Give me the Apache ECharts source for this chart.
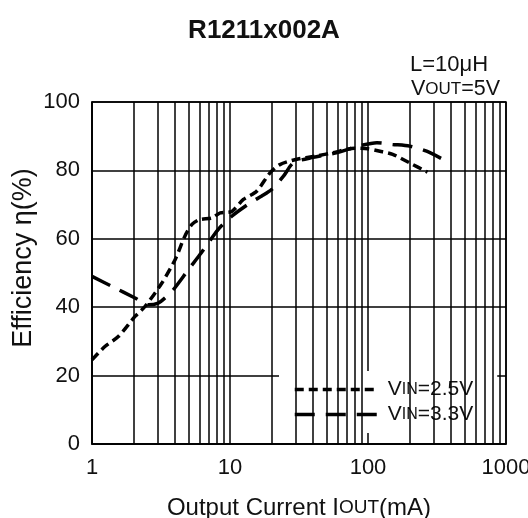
<!DOCTYPE html>
<html><head><meta charset="utf-8">
<script src="https://cdn.jsdelivr.net/npm/echarts@6/dist/echarts.min.js"></script>
<style>html,body{margin:0;padding:0;background:#fff}#c{width:528px;height:518px}</style>
</head><body><div id="c"></div>
<script>
// Data
var vin25_x = [1, 1.24, 1.55, 2.05, 2.42, 3.2, 4.0, 4.7, 5.3, 6.0, 7.4, 8.5, 10.3, 12.5, 15.6, 19.5, 23, 30, 42, 56, 80, 100, 122, 151, 200, 270];
var vin25_y = [24.6, 28.5, 31.4, 37.3, 40.2, 47, 53.9, 60.7, 64.2, 65.6, 66.1, 67.6, 68, 71.5, 73.9, 79.3, 81.7, 83.2, 84.2, 85.2, 86.5, 86.3, 85.6, 84.7, 82.2, 79.5];
var vin33_x = [1, 1.39, 2.05, 2.56, 3.02, 3.38, 3.88, 5.0, 6.2, 8.2, 10.3, 14, 17, 20, 24.4, 28.8, 40, 60, 87, 116, 151, 200, 266, 350];
var vin33_y = [49, 46.1, 42.7, 40.7, 41.2, 42.7, 45.1, 51, 55.9, 62.7, 66.6, 70.5, 72.5, 74.4, 78.3, 82.2, 83.8, 85.2, 87.2, 88.1, 87.6, 87.1, 85.6, 83.2];
var minorGrid_x = [2,3,4,5,6,7,8,9,20,30,40,50,60,70,80,90,200,300,400,500,600,700,800,900];
var seriesNames = ['{a|V}{b|IN}{a|=2.5V}', '{a|V}{b|IN}{a|=3.3V}'];

function pairs(xs, ys){ return xs.map(function(x,i){ return [x, ys[i]]; }); }
var FONT = 'Liberation Sans, Arial, sans-serif';
var chart = echarts.init(document.getElementById('c'));
chart.setOption({
  animation: false,
  backgroundColor: '#fff',
  textStyle: {fontFamily: FONT, color: '#111'},
  title: [
    {text: 'R1211x002A', left: 'center', top: 13, textStyle: {fontSize: 26, fontWeight: 'bold', color: '#111', fontFamily: FONT}},
    {text: 'L=10μH', left: 405, top: 49, textStyle: {fontSize: 22, fontWeight: 'normal', color: '#111', fontFamily: FONT}},
    {text: '{a|V}{b|OUT}{a|=5V}', left: 406, top: 73, textStyle: {fontSize: 21, fontWeight: 'normal', color: '#111', fontFamily: FONT,
      rich: {a: {fontSize: 21.5, fontFamily: FONT, color: '#111'}, b: {fontSize: 17, fontFamily: FONT, color: '#111'}}}}
  ],
  graphic: [
    {type: 'text', x: 24, y: 258, rotation: Math.PI / 2, silent: true,
      style: {text: 'Efficiency η(%)', font: '27px ' + FONT, fill: '#111', align: 'center', verticalAlign: 'middle'}}
  ],
  grid: {left: 92, right: 22, top: 102, bottom: 74, show: true, borderColor: '#000', borderWidth: 1.5,
    containLabel: false, outerBoundsMode: 'none'},
  legend: {
    orient: 'vertical', left: 279, top: 371, backgroundColor: '#fff',
    padding: [8, 24, 8, 14], itemGap: 4, itemWidth: 82, itemHeight: 14,
    data: seriesNames,
    itemStyle: {opacity: 0},
    lineStyle: {width: 3.5},
    formatter: function(n){ return n; },
    textStyle: {fontSize: 21, color: '#111', fontFamily: FONT, padding: [0, 0, 0, 6],
      rich: {a: {fontSize: 21, fontFamily: FONT, color: '#111'}, b: {fontSize: 16, fontFamily: FONT, color: '#111'}}}
  },
  xAxis: {
    type: 'log', logBase: 10, min: 1, max: 1000,
    name: '{a|Output Current I}{b|OUT}{a|(mA)}', nameLocation: 'middle', nameGap: 52,
    nameTextStyle: {fontSize: 24, color: '#111', fontFamily: FONT,
      rich: {a: {fontSize: 24, fontFamily: FONT, color: '#111'}, b: {fontSize: 19, fontFamily: FONT, color: '#111'}}},
    axisLine: {show: true, lineStyle: {color: '#000', width: 1.5}},
    axisTick: {show: false},
    axisLabel: {fontSize: 22, color: '#111', margin: 13, fontFamily: FONT, formatter: function(v){ return String(v); }},
    splitLine: {show: true, lineStyle: {color: '#000', width: 1.5}}
  },
  yAxis: {
    type: 'value', min: 0, max: 100, interval: 20,
    axisLine: {show: true, lineStyle: {color: '#000', width: 1.5}},
    axisTick: {show: false},
    axisLabel: {fontSize: 22, color: '#111', margin: 12, fontFamily: FONT},
    splitLine: {show: true, lineStyle: {color: '#000', width: 1.5}}
  },
  series: [
    {
      name: 'grid', type: 'line', data: [[1, 0]], symbol: 'none', lineStyle: {opacity: 0}, silent: true, z: 1,
      markLine: {silent: true, symbol: ['none', 'none'], label: {show: false}, animation: false,
        lineStyle: {color: '#000', width: 1.5, type: 'solid'},
        data: minorGrid_x.map(function(v){ return {xAxis: v}; })}
    },
    {
      name: seriesNames[0], type: 'line', data: pairs(vin25_x, vin25_y), symbol: 'none', smooth: 0.25, z: 3,
      itemStyle: {color: '#000'},
      lineStyle: {color: '#000', width: 3.5, type: [9, 5]}
    },
    {
      name: seriesNames[1], type: 'line', data: pairs(vin33_x, vin33_y), symbol: 'none', smooth: 0.25, z: 3,
      itemStyle: {color: '#000'},
      lineStyle: {color: '#000', width: 3.5, type: [20, 11]}
    }
  ]
});
</script></body></html>
